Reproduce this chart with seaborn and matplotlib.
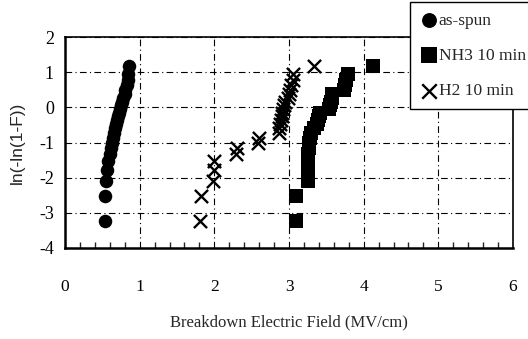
import matplotlib
matplotlib.use("Agg")
import matplotlib.pyplot as plt
from matplotlib.ticker import MultipleLocator
import seaborn as sns
import pandas as pd

# Weibull plot levels ln(-ln(1-F)) (25 ranks per series)
levels = [-3.24, -2.52, -2.10, -1.79, -1.54, -1.34, -1.16, -1.00, -0.86, -0.72,
          -0.60, -0.48, -0.37, -0.26, -0.15, -0.05, 0.06, 0.16, 0.27, 0.38,
          0.50, 0.63, 0.77, 0.94, 1.18]

as_spun_x = [0.53, 0.54, 0.55, 0.56, 0.58, 0.60, 0.61, 0.63, 0.64, 0.66,
             0.67, 0.68, 0.69, 0.71, 0.72, 0.73, 0.75, 0.77, 0.78, 0.80,
             0.81, 0.83, 0.84, 0.85, 0.86]
nh3_x = [3.10, 3.10, 3.25, 3.25, 3.26, 3.26, 3.27, 3.27, 3.28, 3.30,
         3.33, 3.38, 3.39, 3.40, 3.41, 3.53, 3.55, 3.56, 3.57, 3.58,
         3.73, 3.75, 3.77, 3.79, 4.12]
h2_x = [1.81, 1.82, 1.98, 1.99, 2.00, 2.29, 2.31, 2.58, 2.60, 2.86,
        2.87, 2.88, 2.89, 2.90, 2.91, 2.92, 2.93, 2.94, 2.98, 3.00,
        3.02, 3.03, 3.05, 3.06, 3.34]

series_names = ["as-spun", "NH3 10 min", "H2 10 min"]
x_ticks = [0, 1, 2, 3, 4, 5, 6]
y_ticks = [-4, -3, -2, -1, 0, 1, 2]

sns.set_style("white")
plt.rcParams["font.family"] = ["Liberation Serif", "DejaVu Serif"]

fig = plt.figure(figsize=(5.28, 3.39), dpi=100)
ax = fig.add_axes([65 / 528, 1 - 248 / 339, (513 - 65) / 528, (248 - 37) / 339])

df_a = pd.DataFrame({"x": as_spun_x, "y": levels})
df_n = pd.DataFrame({"x": nh3_x, "y": levels})
df_h = pd.DataFrame({"x": h2_x, "y": levels})

sns.scatterplot(data=df_a, x="x", y="y", marker="o", s=95, color="black",
                edgecolor="black", linewidth=0, ax=ax, label=series_names[0], zorder=3)
sns.scatterplot(data=df_n, x="x", y="y", marker="s", s=100, color="black",
                edgecolor="black", linewidth=0, ax=ax, label=series_names[1], zorder=3)
sns.scatterplot(data=df_h, x="x", y="y", marker="x", s=90, color="black",
                linewidth=1.7, ax=ax, label=series_names[2], zorder=3)

ax.set_xlim(0, 6)
ax.set_ylim(-4, 2)
ax.set_xticks(x_ticks)
ax.set_yticks(y_ticks)
ax.set_xticklabels([str(v) for v in x_ticks], fontsize=12.5)
ax.set_yticklabels([str(v) for v in y_ticks], fontsize=13)
ax.xaxis.set_minor_locator(MultipleLocator(0.2))
ax.tick_params(axis="x", which="major", direction="in", length=7, width=1, pad=22, colors="black")
ax.tick_params(axis="x", which="minor", direction="in", length=4, width=1, bottom=True)
ax.tick_params(axis="y", which="major", direction="in", length=0, pad=8, colors="black")

ax.grid(True, which="major", color="black", linestyle=(0, (6, 3, 1, 3)), linewidth=0.8)
ax.set_axisbelow(True)

for side in ["left", "bottom"]:
    ax.spines[side].set_color("black")
    ax.spines[side].set_linewidth(1.8)
for side in ["top", "right"]:
    ax.spines[side].set_color("black")
    ax.spines[side].set_linewidth(1.2)

ax.set_xlabel("Breakdown Electric Field (MV/cm)", fontsize=12, labelpad=14)
ax.set_ylabel("ln(-ln(1-F))", fontsize=12.5, family=["Liberation Sans", "DejaVu Sans"], labelpad=10)

leg = ax.legend(loc="upper left", bbox_to_anchor=(410 / 528, 1 - 2 / 339),
                bbox_transform=fig.transFigure, frameon=True, fancybox=False,
                edgecolor="black", framealpha=1, fontsize=12.5, labelspacing=1.1,
                handletextpad=0.05, handlelength=1.0, borderpad=0.6, borderaxespad=0,
                markerscale=1.1)
leg.get_frame().set_linewidth(1.0)
leg.set_zorder(5)

fig.savefig("out.png", dpi=100)
